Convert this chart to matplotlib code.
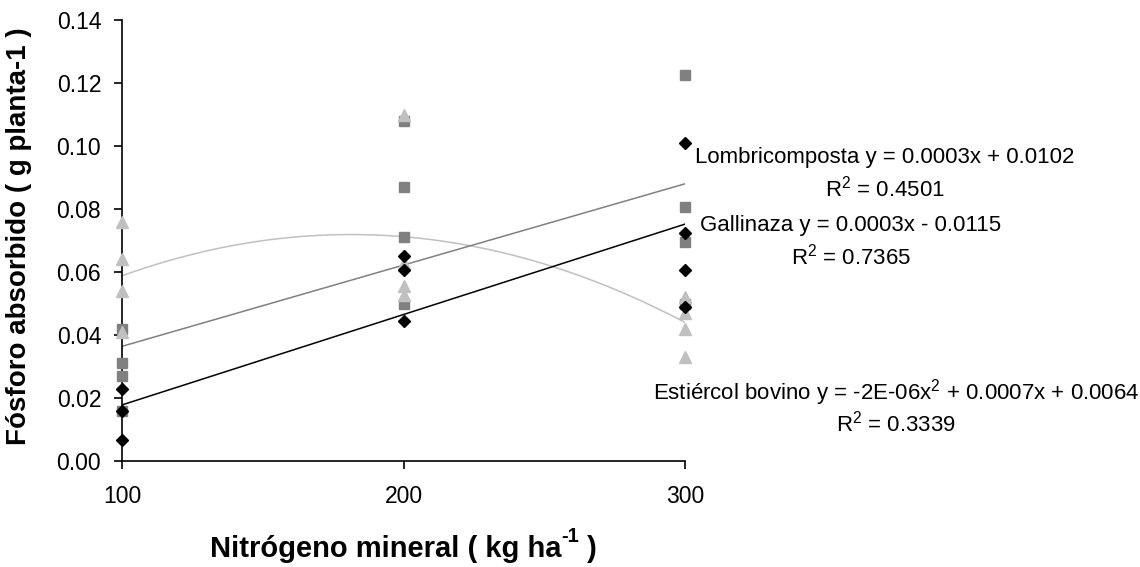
import numpy as np
import matplotlib
matplotlib.use("Agg")
import matplotlib.pyplot as plt

# replicate values, per amendment
x_gal = [100, 100, 100, 200, 200, 200, 300, 300, 300, 300]
y_gal = [0.023, 0.016, 0.0067, 0.065, 0.0605, 0.0445, 0.101, 0.0725, 0.0605, 0.049]
x_lom = [100, 100, 100, 100, 200, 200, 200, 200, 300, 300, 300, 300]
y_lom = [0.042, 0.031, 0.027, 0.016, 0.108, 0.087, 0.071, 0.050, 0.1225, 0.0805, 0.0695, 0.0498]
x_est = [100, 100, 100, 100, 200, 200, 200, 200, 300, 300, 300, 300]
y_est = [0.076, 0.064, 0.054, 0.041, 0.110, 0.063, 0.0557, 0.0527, 0.052, 0.047, 0.042, 0.033]

# trendline coefficients as drawn (highest power first)
fit_lom = [0.000258, 0.0106]
fit_gal = [0.000287, -0.0109]
fit_est = [-1.98e-6, 0.000718, 0.0068]

plt.rcParams.update({
    "font.family": ["Liberation Sans", "DejaVu Sans"],
    "mathtext.fontset": "custom",
    "mathtext.rm": "Liberation Sans",
    "mathtext.it": "Liberation Sans",
    "mathtext.bf": "Liberation Sans:bold",
})

W, H = 1140, 567
fig = plt.figure(figsize=(W / 100, H / 100), dpi=100)
ax = fig.add_axes([122 / W, 1 - 461 / H, (685 - 122) / W, (461 - 20) / H])

xs = np.linspace(100, 300, 200)
ax.plot(xs, np.polyval(fit_est, xs), color="#c0c0c0", lw=1.1, zorder=2)
ax.plot(xs, np.polyval(fit_lom, xs), color="#808080", lw=1.1, zorder=2)
ax.plot(xs, np.polyval(fit_gal, xs), color="black", lw=1.1, zorder=2)

ax.plot(x_lom, y_lom, "s", color="#808080", ms=7, ls="none", clip_on=False, zorder=3)
ax.plot(x_gal, y_gal, "D", color="black", ms=6.5, ls="none", clip_on=False, zorder=4)
ax.plot(x_est, y_est, "^", color="#c0c0c0", ms=8.5, ls="none", clip_on=False, zorder=3)

ax.set_xlim(100, 300)
ax.set_ylim(0, 0.14)
ax.set_xticks([100, 200, 300])
ax.set_yticks(np.arange(0, 0.141, 0.02))
ax.yaxis.set_major_formatter(matplotlib.ticker.FormatStrFormatter("%.2f"))
for s in ("top", "right"):
    ax.spines[s].set_visible(False)
for s in ("left", "bottom"):
    ax.spines[s].set_linewidth(1.2)
ax.tick_params(axis="x", direction="out", length=6, width=1.2, pad=11, labelsize=16.5)
ax.tick_params(axis="y", direction="out", length=6, width=1.2, pad=9, labelsize=16.5)

fig.text(19 / W, 1 - 236 / H, "Fósforo absorbido ( g planta-1 )", rotation=90,
         ha="center", va="center", fontsize=20, fontweight="bold")

# x label with a hyphen superscript, built from three pieces
t1 = fig.text(210 / W, 1 - 557 / H, "Nitrógeno mineral ( kg ha",
              ha="left", va="baseline", fontsize=21, fontweight="bold")
t2 = fig.add_artist(matplotlib.text.Annotation(
    "-1", xy=(1, 0.62), xycoords=t1, ha="left", va="bottom",
    fontsize=14.5, fontweight="bold"))
fig.add_artist(matplotlib.text.Annotation(
    " )", xy=(1, 0), xycoords=(t2, t1), ha="left", va="bottom",
    fontsize=21, fontweight="bold"))

fs = 16
fig.text(885 / W, 1 - 158 / H, "Lombricomposta y = 0.0003x + 0.0102", ha="center", va="center", fontsize=fs)
fig.text(885 / W, 1 - 189 / H, r"R$^2$ = 0.4501", ha="center", va="center", fontsize=fs)
fig.text(851 / W, 1 - 226 / H, "Gallinaza y = 0.0003x - 0.0115", ha="center", va="center", fontsize=fs)
fig.text(851 / W, 1 - 257 / H, r"R$^2$ = 0.7365", ha="center", va="center", fontsize=fs)
fig.text(896 / W, 1 - 393 / H, r"Estiércol bovino y = -2E-06x$^2$ + 0.0007x + 0.0064", ha="center", va="center", fontsize=fs)
fig.text(896 / W, 1 - 424 / H, r"R$^2$ = 0.3339", ha="center", va="center", fontsize=fs)

fig.savefig("out.png", dpi=100)
